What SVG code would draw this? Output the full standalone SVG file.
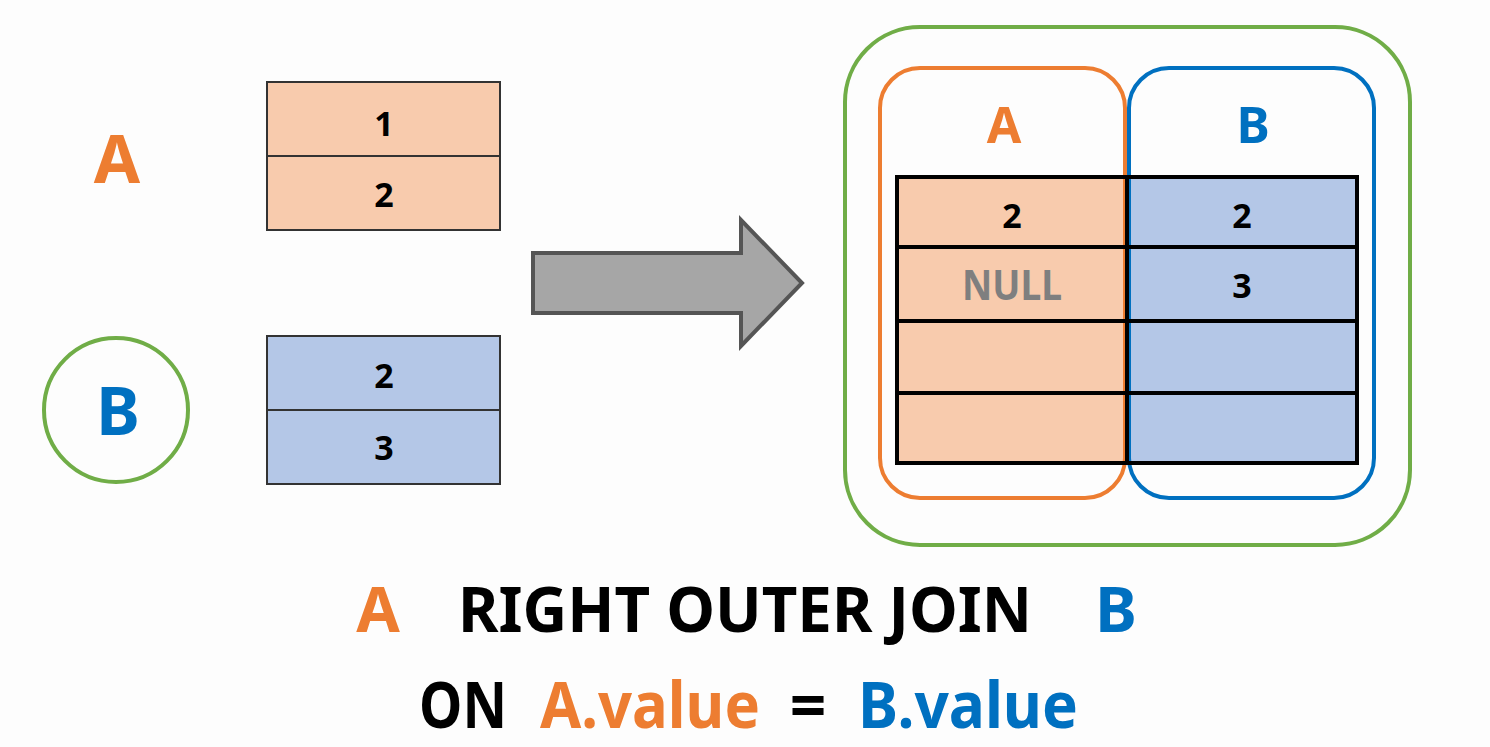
<svg xmlns="http://www.w3.org/2000/svg" width="1490" height="747" viewBox="0 0 1490 747">
<style>
text{font-family:"Noto Sans","Open Sans","DejaVu Sans",sans-serif;font-weight:bold;text-anchor:middle}
.or{fill:#ed7d31}.bl{fill:#0070c0}.bk{fill:#000}
.cellA{fill:#f8cbad}.cellB{fill:#b4c7e7}
.thin{fill:none;stroke:#333;stroke-width:2}
.thick{fill:none;stroke:#000;stroke-width:4}
.num{font-size:34px;fill:#000}
</style>
<rect width="1490" height="747" fill="#fdfdfd"/>
<g id="labelA"><text x="117" y="183" class="or" font-size="67">A</text></g>
<g id="labelB"><circle cx="116" cy="410" r="72" fill="none" stroke="#70ad47" stroke-width="4"/><text x="118" y="435" class="bl" font-size="66">B</text></g>
<g id="tableA">
<rect x="267" y="82" width="233" height="148" class="cellA"/>
<rect x="267" y="82" width="233" height="148" class="thin"/>
<line x1="267" y1="156" x2="500" y2="156" stroke="#333" stroke-width="2"/>
<text x="384" y="136" class="num">1</text>
<text x="384" y="207" class="num">2</text>
</g>
<g id="tableB">
<rect x="267" y="336" width="233" height="148" class="cellB"/>
<rect x="267" y="336" width="233" height="148" class="thin"/>
<line x1="267" y1="410" x2="500" y2="410" stroke="#333" stroke-width="2"/>
<text x="384" y="388" class="num">2</text>
<text x="384" y="460" class="num">3</text>
</g>
<g id="connectors">
<path d="M533 253 H741 V220 L802 283 L741 346 V313 H533 Z" fill="#a6a6a6" stroke="#555" stroke-width="4" stroke-linejoin="miter"/>
</g>
<g id="result">
<rect x="845" y="27" width="565" height="518" rx="75" fill="none" stroke="#70ad47" stroke-width="4"/>
<rect x="897" y="177" width="230" height="286" class="cellA"/>
<rect x="1127" y="177" width="230" height="286" class="cellB"/>
<rect x="880" y="68" width="245" height="430" rx="40" fill="none" stroke="#ed7d31" stroke-width="4"/>
<rect x="1129" y="68" width="245" height="430" rx="40" fill="none" stroke="#0070c0" stroke-width="4"/>
<rect x="897" y="177" width="460" height="286" class="thick"/>
<line x1="1127" y1="177" x2="1127" y2="463" stroke="#000" stroke-width="4"/>
<line x1="897" y1="247" x2="1359" y2="247" stroke="#000" stroke-width="4"/>
<line x1="897" y1="321" x2="1359" y2="321" stroke="#000" stroke-width="4"/>
<line x1="897" y1="393" x2="1357" y2="393" stroke="#000" stroke-width="4"/>
<text x="1004" y="143" class="or" font-size="50">A</text>
<text x="1253" y="143" class="bl" font-size="50">B</text>
<text x="1012" y="228" class="num">2</text>
<text x="1242" y="228" class="num">2</text>
<text x="1012" y="300" font-size="42" fill="#7f7f7f" textLength="100" lengthAdjust="spacingAndGlyphs">NULL</text>
<text x="1242" y="298" class="num">3</text>
</g>
<g id="caption">
<text x="378" y="632" class="or" font-size="63">A</text>
<text x="745" y="632" class="bk" font-size="63" textLength="574" lengthAdjust="spacingAndGlyphs">RIGHT OUTER JOIN</text>
<text x="1116" y="632" class="bl" font-size="63">B</text>
<text x="463" y="728" class="bk" font-size="64" textLength="88" lengthAdjust="spacingAndGlyphs">ON</text>
<text x="650" y="728" class="or" font-size="64" textLength="220" lengthAdjust="spacingAndGlyphs">A.value</text>
<text x="808" y="728" class="bk" font-size="64">=</text>
<text x="968" y="728" class="bl" font-size="64" textLength="220" lengthAdjust="spacingAndGlyphs">B.value</text>
</g>
</svg>
